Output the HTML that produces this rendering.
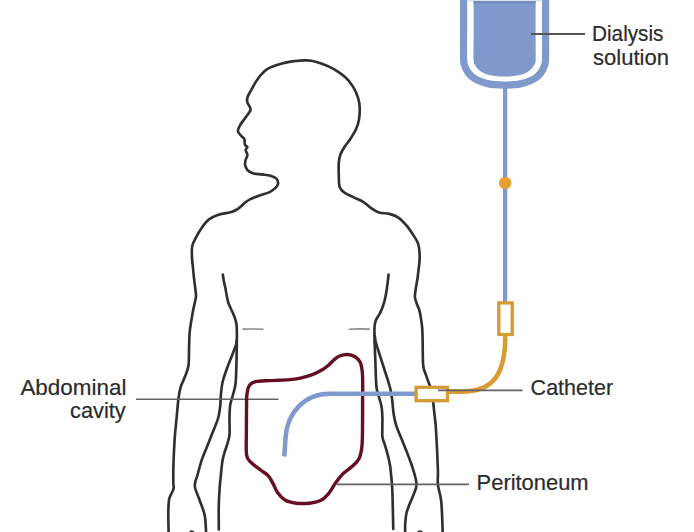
<!DOCTYPE html>
<html><head><meta charset="utf-8"><style>
html,body{margin:0;padding:0;background:#fff;}
body{width:694px;height:532px;overflow:hidden;position:relative;font-family:"Liberation Sans",sans-serif;}
svg{position:absolute;left:0;top:0;}
svg text{font-family:"Liberation Sans",sans-serif;}
</style></head><body>
<svg width="694" height="532" viewBox="0 0 694 532">
<path d="M168.6,533.0 C168.6,529.5 168.2,517.5 168.3,512.0 C168.4,506.5 168.6,502.9 169.0,500.0 C169.4,497.1 170.2,496.4 171.0,494.5 C171.8,492.6 173.2,490.6 173.6,488.5 C174.0,486.4 173.3,485.8 173.3,482.0 C173.3,478.2 173.2,473.0 173.4,466.0 C173.6,459.0 174.1,448.2 174.6,440.0 C175.1,431.8 176.1,423.7 176.7,417.0 C177.3,410.3 177.7,404.9 178.3,400.0 C178.9,395.1 179.6,391.0 180.5,387.7 C181.4,384.4 182.5,382.7 183.5,380.2 C184.5,377.7 185.7,375.1 186.5,372.6 C187.3,370.2 188.1,368.0 188.5,365.5 C188.9,363.0 188.8,361.5 188.9,357.6 C189.0,353.7 189.0,346.6 189.2,342.0 C189.4,337.4 189.3,334.9 189.9,330.0 C190.5,325.1 191.9,317.0 192.7,312.4 C193.5,307.8 194.3,305.0 194.9,302.2 C195.5,299.4 196.0,298.2 196.0,295.4 C196.0,292.6 195.3,288.5 194.9,285.3 C194.5,282.1 194.2,279.7 193.8,276.3 C193.4,272.9 193.0,268.1 192.7,265.0 C192.4,261.9 192.1,261.1 192.0,258.0 C191.9,254.9 191.5,249.7 192.2,246.3 C192.8,242.9 194.5,240.5 195.9,237.7 C197.3,234.8 199.0,231.9 200.8,229.2 C202.6,226.5 204.9,223.3 206.9,221.3 C208.9,219.3 210.6,218.2 213.0,217.0 C215.4,215.8 218.4,214.7 221.5,213.9 C224.6,213.1 228.5,213.0 231.3,212.1 C234.2,211.2 236.2,210.1 238.6,208.4 C241.0,206.7 243.8,203.6 245.9,202.0 C248.0,200.4 248.7,200.0 251.0,198.9 C253.3,197.8 256.4,196.6 259.5,195.5 C262.6,194.4 266.9,193.4 269.6,192.1 C272.3,190.8 274.1,189.3 275.5,187.9 C276.9,186.5 278.0,185.2 278.1,183.7 C278.2,182.1 277.7,179.9 276.4,178.6 C275.1,177.3 272.9,176.4 270.5,175.7 C268.1,175.0 264.8,174.8 262.0,174.4 C259.2,174.0 255.9,174.2 253.5,173.5 C251.1,172.8 249.0,171.6 247.6,170.2 C246.2,168.8 245.4,166.8 245.1,165.1 C244.8,163.4 245.2,161.7 245.6,160.0 C246.0,158.3 247.4,156.7 247.4,155.0 C247.4,153.3 245.6,151.1 245.6,149.8 C245.6,148.5 247.5,148.1 247.4,147.2 C247.3,146.3 245.4,145.9 244.9,144.5 C244.4,143.1 244.9,140.4 244.3,139.0 C243.7,137.6 242.6,137.5 241.5,136.2 C240.4,134.9 238.1,133.1 237.9,131.2 C237.7,129.3 238.9,127.3 240.2,125.0 C241.5,122.7 243.8,120.1 245.5,117.5 C247.2,114.9 250.3,112.1 250.6,109.5 C250.9,106.9 247.7,104.2 247.2,102.0 C246.7,99.8 247.2,98.5 247.8,96.5 C248.5,94.5 249.7,92.8 251.1,90.3 C252.5,87.8 254.4,84.1 256.1,81.4 C257.8,78.7 259.5,76.3 261.4,74.3 C263.2,72.3 264.9,70.7 267.2,69.2 C269.5,67.8 272.3,66.7 275.3,65.6 C278.3,64.5 282.0,63.4 285.4,62.6 C288.8,61.8 292.4,61.4 295.5,61.0 C298.6,60.6 301.4,60.4 304.0,60.4 C306.6,60.4 308.2,60.1 311.3,60.7 C314.4,61.3 318.8,62.6 322.6,64.0 C326.4,65.4 330.1,66.9 333.9,69.1 C337.6,71.3 341.9,74.1 345.1,77.0 C348.3,79.9 350.8,83.1 353.0,86.6 C355.2,90.1 357.0,94.3 358.1,97.9 C359.2,101.5 359.6,104.4 359.7,108.0 C359.8,111.6 359.6,116.0 359.0,119.4 C358.4,122.8 357.6,125.5 356.3,128.6 C355.0,131.7 352.9,135.0 351.0,138.0 C349.1,141.0 346.6,143.8 344.8,146.5 C343.1,149.2 341.5,151.5 340.5,154.2 C339.5,156.9 339.1,159.0 338.8,162.6 C338.5,166.2 338.7,171.7 338.8,175.8 C338.9,179.9 338.8,184.3 339.7,187.1 C340.6,189.9 342.0,191.0 344.4,192.7 C346.8,194.4 350.7,195.9 353.8,197.4 C356.9,198.9 360.3,200.0 363.2,201.8 C366.1,203.6 368.5,206.4 371.1,208.2 C373.7,210.0 375.8,211.4 378.9,212.4 C382.0,213.4 386.2,213.0 389.5,213.9 C392.8,214.8 395.8,215.8 398.7,217.8 C401.6,219.8 404.2,222.8 406.6,225.7 C409.0,228.5 411.3,232.1 413.2,234.9 C415.1,237.8 416.8,240.3 417.8,242.8 C418.8,245.3 419.0,247.1 419.3,250.0 C419.6,252.9 419.7,256.7 419.6,260.0 C419.5,263.3 418.9,266.8 418.5,270.0 C418.1,273.2 417.9,275.8 417.4,279.0 C416.9,282.2 416.1,286.2 415.7,289.2 C415.3,292.2 414.7,294.6 414.9,297.0 C415.1,299.4 416.1,301.7 416.8,303.8 C417.5,305.9 418.4,307.2 419.1,309.5 C419.8,311.8 420.3,314.3 420.8,317.4 C421.3,320.5 421.9,324.4 422.2,328.0 C422.5,331.6 422.4,332.8 422.6,339.0 C422.8,345.2 422.6,359.2 423.2,365.3 C423.8,371.4 425.2,372.4 426.3,375.8 C427.4,379.2 429.3,384.3 429.9,386.0" fill="none" stroke="#2f2f2f" stroke-width="2.65" stroke-linecap="round" stroke-linejoin="round" />
<path d="M433.2,402.0 C433.5,405.0 434.6,415.3 435.1,420.0 C435.6,424.7 435.5,421.7 436.0,430.0 C436.5,438.3 437.6,460.9 437.9,470.0 C438.2,479.1 437.3,479.4 437.9,484.7 C438.5,490.0 440.5,493.9 441.3,502.0 C442.1,510.1 442.5,527.8 442.7,533.0" fill="none" stroke="#2f2f2f" stroke-width="2.65" stroke-linecap="round" stroke-linejoin="round" />
<path d="M222.8,274.5 C223.0,275.8 223.6,279.8 224.0,282.0 C224.4,284.2 224.6,284.2 225.3,287.6 C226.0,291.0 226.9,298.1 228.3,302.6 C229.7,307.1 232.2,310.9 233.6,314.7 C235.0,318.5 236.1,320.1 236.6,325.2 C237.1,330.2 236.8,341.7 236.8,345.0" fill="none" stroke="#2f2f2f" stroke-width="2.65" stroke-linecap="round" stroke-linejoin="round" />
<path d="M236.8,345.0 C236.7,348.3 236.6,358.5 236.4,365.0 C236.2,371.5 236.1,379.0 235.5,384.0 C234.9,389.0 233.8,391.5 232.9,395.0 C232.0,398.5 230.8,401.2 230.2,405.0 C229.6,408.8 229.6,414.2 229.5,418.0 C229.4,421.8 229.6,425.2 229.6,428.0 C229.6,430.8 229.8,432.4 229.5,434.9 C229.2,437.4 228.4,440.3 227.6,443.2 C226.8,446.1 225.5,449.2 224.6,452.2 C223.7,455.2 223.0,457.5 222.4,461.3 C221.8,465.1 221.3,470.9 220.9,475.0 C220.5,479.1 220.2,481.1 219.8,486.0 C219.5,490.9 219.0,497.5 218.8,504.7 C218.6,511.9 218.8,525.3 218.8,529.4" fill="none" stroke="#2f2f2f" stroke-width="2.65" stroke-linecap="round" stroke-linejoin="round" />
<path d="M236.4,341.0 C236.3,341.9 237.0,342.3 235.6,346.3 C234.2,350.3 230.4,359.2 228.2,365.1 C226.0,371.1 223.8,377.0 222.6,382.0 C221.4,387.0 221.3,390.8 220.9,395.0 C220.5,399.2 220.6,403.2 220.1,407.0 C219.6,410.8 219.4,413.7 218.2,418.0 C216.9,422.3 214.5,427.7 212.6,432.6 C210.7,437.6 208.5,442.9 206.6,447.7 C204.7,452.5 202.8,456.8 201.3,461.3 C199.8,465.9 198.6,470.9 197.5,475.0 C196.4,479.1 194.5,481.9 194.8,486.0 C195.1,490.1 197.7,494.4 199.3,499.3 C201.0,504.2 203.6,509.7 204.7,515.3 C205.8,520.9 205.9,530.0 206.1,533.0" fill="none" stroke="#2f2f2f" stroke-width="2.65" stroke-linecap="round" stroke-linejoin="round" />
<path d="M388.6,274.5 C388.3,276.9 387.5,284.4 386.8,289.0 C386.1,293.6 385.3,298.2 384.2,302.1 C383.1,306.0 381.7,309.6 380.3,312.6 C378.9,315.6 377.0,317.6 376.0,320.0 C375.0,322.4 374.7,323.3 374.5,327.0 C374.3,330.7 374.6,339.5 374.6,342.0" fill="none" stroke="#2f2f2f" stroke-width="2.65" stroke-linecap="round" stroke-linejoin="round" />
<path d="M374.6,342.0 C374.7,345.0 375.1,354.5 375.3,360.0 C375.5,365.5 375.6,370.3 375.8,375.0 C376.0,379.7 376.1,384.4 376.6,388.0 C377.1,391.6 378.0,393.3 378.8,396.5 C379.6,399.7 381.0,403.4 381.6,407.0 C382.2,410.6 382.3,414.2 382.4,418.0 C382.5,421.8 382.3,426.8 382.3,430.0 C382.3,433.2 382.1,435.1 382.5,437.5 C382.9,439.9 383.9,441.8 384.8,444.7 C385.7,447.6 386.9,451.7 387.8,455.2 C388.7,458.7 389.5,462.3 390.1,465.8 C390.7,469.3 390.8,472.0 391.2,476.0 C391.6,480.0 391.9,481.2 392.3,490.0 C392.7,498.8 393.1,522.5 393.3,529.0" fill="none" stroke="#2f2f2f" stroke-width="2.65" stroke-linecap="round" stroke-linejoin="round" />
<path d="M374.9,336.0 C375.0,336.9 375.0,338.8 375.6,341.5 C376.2,344.2 377.7,348.6 378.8,352.0 C379.9,355.4 380.9,358.7 382.0,362.0 C383.1,365.3 384.1,368.7 385.2,372.0 C386.3,375.3 387.5,379.0 388.4,382.0 C389.3,385.0 390.0,387.0 390.6,390.0 C391.2,393.0 391.7,396.2 392.2,400.0 C392.7,403.8 392.9,408.8 393.5,413.0 C394.1,417.2 394.7,420.6 396.1,425.1 C397.5,429.6 400.1,435.2 402.1,440.2 C404.1,445.2 406.2,450.2 408.1,455.2 C410.0,460.2 412.0,465.4 413.4,470.3 C414.8,475.2 416.6,480.4 416.5,484.7 C416.4,489.0 414.2,492.5 413.0,496.0 C411.8,499.5 410.1,502.5 409.0,505.5 C407.9,508.5 406.9,510.9 406.3,514.0 C405.7,517.1 405.4,520.8 405.2,524.0 C405.0,527.2 405.2,531.5 405.2,533.0" fill="none" stroke="#2f2f2f" stroke-width="2.65" stroke-linecap="round" stroke-linejoin="round" />
<path d="M243,329.1 Q253,328.7 263,329.3" fill="none" stroke="#8a8a8a" stroke-width="1.6" stroke-linecap="round"/>
<path d="M349.5,329.2 Q359,328.6 369.2,329.1" fill="none" stroke="#8a8a8a" stroke-width="1.6" stroke-linecap="round"/>
<path d="M189.5,533 Q191.7,529.5 194,533" fill="none" stroke="#2f2f2f" stroke-width="2.2"/>
<path d="M417.5,533 Q420,529.5 422.5,533" fill="none" stroke="#2f2f2f" stroke-width="2.2"/>
<path d="M136,399.2 L278.5,399.2" stroke="#636363" stroke-width="1.6"/>
<path d="M246.6,400.0 C246.5,406.0 246.4,420.8 246.4,430.0 C246.4,439.2 245.8,449.6 246.6,455.0 C247.4,460.4 248.9,460.0 251.2,462.5 C253.5,465.0 257.8,467.8 260.6,470.0 C263.4,472.2 266.1,473.4 268.1,475.6 C270.1,477.8 271.2,480.3 272.8,483.1 C274.4,485.9 275.5,489.7 277.5,492.5 C279.5,495.3 281.9,498.2 285.0,500.0 C288.1,501.8 292.1,502.7 296.2,503.2 C300.2,503.7 305.2,503.6 309.3,503.2 C313.4,502.8 317.5,502.0 320.6,500.5 C323.7,499.0 325.5,497.2 328.0,494.3 C330.5,491.4 333.0,486.5 335.5,483.1 C338.0,479.7 340.2,476.5 343.0,473.7 C345.8,470.9 349.7,468.7 352.4,466.2 C355.1,463.7 357.4,461.8 359.0,458.7 C360.6,455.6 361.2,452.3 361.8,447.5 C362.4,442.7 362.4,437.9 362.5,430.0 C362.6,422.1 362.6,409.2 362.6,400.0 C362.6,390.8 362.9,381.3 362.5,375.0 C362.1,368.7 361.6,365.4 360.3,362.3 C359.0,359.2 356.7,357.8 354.6,356.5 C352.5,355.2 350.1,354.6 347.6,354.5 C345.1,354.4 341.9,355.1 339.6,356.0 C337.3,356.9 335.5,358.6 333.8,360.0 C332.1,361.4 331.1,363.0 329.2,364.6 C327.3,366.2 325.0,368.2 322.3,369.8 C319.6,371.4 316.5,373.0 313.0,374.4 C309.5,375.8 305.3,377.0 301.5,377.9 C297.7,378.8 294.2,379.2 290.0,379.6 C285.8,380.0 280.2,380.2 276.0,380.4 C271.8,380.6 268.2,380.6 265.0,380.8 C261.8,381.0 259.3,380.9 257.0,381.3 C254.7,381.7 252.8,382.4 251.4,383.4 C250.0,384.4 249.0,385.7 248.3,387.5 C247.6,389.3 247.3,391.9 247.0,394.0 C246.7,396.1 246.7,394.0 246.6,400.0Z" fill="none" stroke="#660f22" stroke-width="3.4" stroke-linecap="round" stroke-linejoin="round" />
<path d="M463.6,-5.0 C463.6,-0.8 463.6,9.5 463.6,20.0 C463.6,30.5 463.4,50.3 463.6,58.0 C463.8,65.7 464.3,63.8 464.9,66.0 C465.5,68.2 466.1,69.5 467.2,71.2 C468.2,72.9 469.5,74.5 471.2,76.0 C472.9,77.5 474.8,78.8 477.4,80.1 C480.0,81.3 484.1,82.7 487.0,83.5 C489.9,84.3 492.1,84.4 495.0,84.7 C497.9,85.0 501.4,85.1 504.6,85.1 C507.8,85.1 511.3,85.0 514.2,84.7 C517.1,84.4 519.3,84.3 522.2,83.5 C525.1,82.7 529.2,81.3 531.8,80.1 C534.4,78.8 536.3,77.5 538.0,76.0 C539.7,74.5 541.0,72.9 542.0,71.2 C543.0,69.5 543.7,68.2 544.3,66.0 C544.9,63.8 545.4,65.7 545.6,58.0 C545.8,50.3 545.6,30.5 545.6,20.0 C545.6,9.5 545.6,-0.8 545.6,-5.0" fill="none" stroke="#7f99cc" stroke-width="7.2"/>
<path d="M473.6,1.2 L473.6,40.0 C473.6,43.4 473.3,56.0 473.6,60.3 C473.9,64.6 474.6,64.2 475.5,65.8 C476.4,67.4 477.2,68.5 478.7,69.7 C480.1,71.0 482.2,72.4 484.2,73.3 C486.2,74.2 488.3,74.8 490.5,75.3 C492.7,75.8 495.1,76.1 497.5,76.3 C499.9,76.5 502.2,76.6 504.6,76.6 C507.0,76.6 509.4,76.5 511.7,76.3 C514.1,76.1 516.5,75.8 518.7,75.3 C520.9,74.8 523.0,74.2 525.0,73.3 C527.0,72.4 529.0,71.0 530.5,69.7 C532.0,68.5 532.9,67.4 533.7,65.8 C534.6,64.2 535.3,64.6 535.6,60.3 C535.9,56.0 535.6,43.4 535.6,40.0 L535.6,1.2 Z" fill="#7f99cc"/>
<rect x="468" y="0" width="73" height="1.3" fill="#d5def2"/><rect x="473.5" y="1.2" width="62.3" height="2" fill="#6f86b8"/>
<path d="M505.1,88 L505.1,303" fill="none" stroke="#7f99cc" stroke-width="4.3"/>
<circle cx="505.2" cy="183" r="6.2" fill="#e6a030"/>
<rect x="498.8" y="302.9" width="13.4" height="31.6" fill="#fff" stroke="#d39a36" stroke-width="3.3"/>
<path d="M505.3,336 C505.3,376 492,391.6 462,391.6 L449,391.6" fill="none" stroke="#da9b30" stroke-width="4.6"/>
<path d="M416,393.7 L330,393.7 C305,393.7 287,412 285.5,438 L284.3,456.5" fill="none" stroke="#7f99cc" stroke-width="4.5"/>
<rect x="416.1" y="387.3" width="31.4" height="13.4" fill="#fff" stroke="#d39a36" stroke-width="3.3"/>
<path d="M449,391.6 L447,391.6" stroke="#da9b30" stroke-width="4.6"/>
<path d="M531,34 L585,34" stroke="#555" stroke-width="1.8"/>
<path d="M438,390.3 L522.5,390.3" stroke="#636363" stroke-width="1.8"/>
<path d="M337,484.4 L469,484.4" stroke="#636363" stroke-width="1.6"/>
<text x="592.0" y="41.0" textLength="71.5" lengthAdjust="spacingAndGlyphs" font-size="21.5" fill="#2b2b2b" stroke="#2b2b2b" stroke-width="0.2">Dialysis</text>
<text x="593.0" y="64.6" textLength="76.0" lengthAdjust="spacingAndGlyphs" font-size="21.5" fill="#2b2b2b" stroke="#2b2b2b" stroke-width="0.2">solution</text>
<text x="530.6" y="395.3" textLength="82.5" lengthAdjust="spacingAndGlyphs" font-size="21.5" fill="#2b2b2b" stroke="#2b2b2b" stroke-width="0.2">Catheter</text>
<text x="20.4" y="394.6" textLength="106.0" lengthAdjust="spacingAndGlyphs" font-size="21.5" fill="#2b2b2b" stroke="#2b2b2b" stroke-width="0.2">Abdominal</text>
<text x="70.0" y="418.4" textLength="55.7" lengthAdjust="spacingAndGlyphs" font-size="21.5" fill="#2b2b2b" stroke="#2b2b2b" stroke-width="0.2">cavity</text>
<text x="476.6" y="489.9" textLength="112.0" lengthAdjust="spacingAndGlyphs" font-size="21.5" fill="#2b2b2b" stroke="#2b2b2b" stroke-width="0.2">Peritoneum</text>
</svg>
</body></html>
